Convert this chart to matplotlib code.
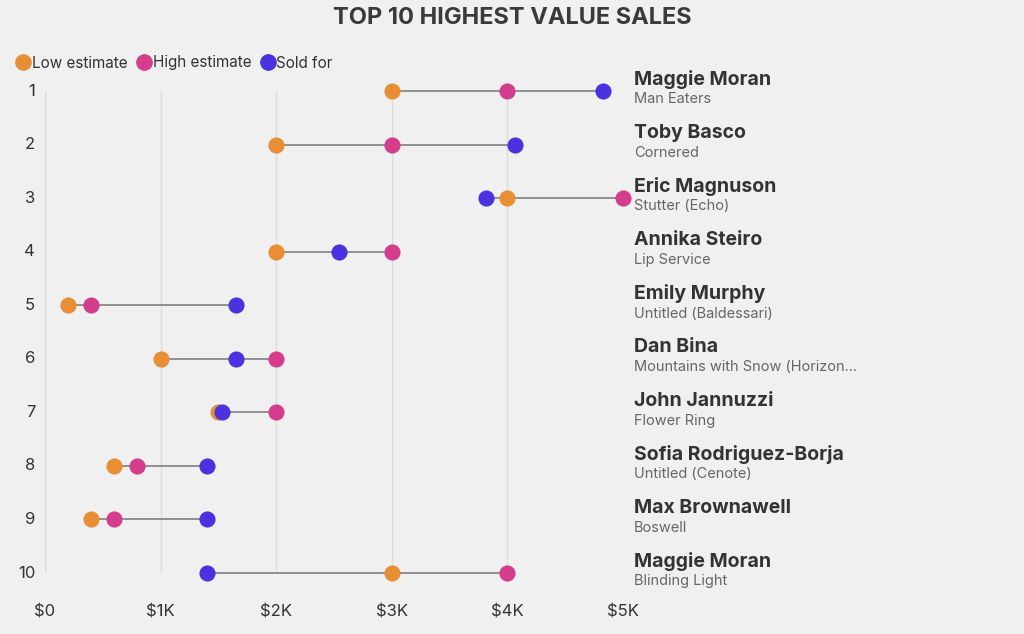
import matplotlib.pyplot as plt
from matplotlib.lines import Line2D
from matplotlib.transforms import blended_transform_factory

plt.rcParams["font.family"] = ["Inter", "DejaVu Sans"]

ranks = [1, 2, 3, 4, 5, 6, 7, 8, 9, 10]
artists = ["Maggie Moran", "Toby Basco", "Eric Magnuson", "Annika Steiro", "Emily Murphy",
           "Dan Bina", "John Jannuzzi", "Sofia Rodriguez-Borja", "Max Brownawell", "Maggie Moran"]
works = ["Man Eaters", "Cornered", "Stutter (Echo)", "Lip Service", "Untitled (Baldessari)",
         "Mountains with Snow (Horizon...", "Flower Ring", "Untitled (Cenote)", "Boswell",
         "Blinding Light"]
low_est = [3000, 2000, 4000, 2000, 200, 1000, 1500, 600, 400, 3000]
high_est = [4000, 3000, 5000, 3000, 400, 2000, 2000, 800, 600, 4000]
sold_for = [4825, 4065, 3815, 2545, 1650, 1650, 1530, 1400, 1400, 1400]
xticks = [0, 1000, 2000, 3000, 4000, 5000]
xtick_labels = ["$0", "$1K", "$2K", "$3K", "$4K", "$5K"]

c_low = "#e88f35"
c_high = "#d43d8b"
c_sold = "#4a32e0"
bg = "#f0f0f0"

fig = plt.figure(figsize=(10.24, 6.34), dpi=100, facecolor=bg)
ax = fig.add_axes([45 / 1024, 1 - 573 / 634, 578 / 1024, 482 / 634], facecolor=bg)

# connecting lines from min to max value per row
for r, lo, hi, s in zip(ranks, low_est, high_est, sold_for):
    vals = [lo, hi, s]
    ax.plot([min(vals), max(vals)], [r, r], color="#888888", lw=1.3, zorder=2,
            solid_capstyle="butt", clip_on=False)

ms = 135
ax.scatter(low_est, ranks, s=ms, color=c_low, zorder=3, clip_on=False, linewidths=0)
ax.scatter(high_est, ranks, s=ms, color=c_high, zorder=3, clip_on=False, linewidths=0)
ax.scatter(sold_for, ranks, s=ms, color=c_sold, zorder=4, clip_on=False, linewidths=0)

ax.set_xlim(0, 5000)
ax.set_ylim(10, 1)
ax.set_xticks(xticks)
ax.set_xticklabels(xtick_labels, fontsize=12, color="#333333")
ax.tick_params(axis="x", length=0, pad=23)
ax.set_yticks([])
ax.grid(axis="x", color="#dcdcdc", lw=1)
ax.set_axisbelow(True)
for sp in ax.spines.values():
    sp.set_visible(False)

# rank numbers on the left
trans_left = blended_transform_factory(ax.transAxes, ax.transData)
for r in ranks:
    ax.annotate(str(r), xy=(0, r), xycoords=trans_left, xytext=(-7, 0),
                textcoords="offset points", ha="right", va="center",
                fontsize=12, color="#333333")

# artist / work labels on the right
for r, name, work in zip(ranks, artists, works):
    ax.annotate(name, xy=(1, r), xycoords=trans_left, xytext=(8, 8.5),
                textcoords="offset points", ha="left", va="center",
                fontsize=14, fontweight="bold", color="#333333", annotation_clip=False)
    ax.annotate(work, xy=(1, r), xycoords=trans_left, xytext=(8, -6),
                textcoords="offset points", ha="left", va="center",
                fontsize=10.5, color="#666666", annotation_clip=False)

fig.text(0.5, 1 - 18 / 634, "TOP 10 HIGHEST VALUE SALES", ha="center", va="center",
         fontsize=17, fontweight="bold", color="#3a3a3a")

handles = [
    Line2D([], [], marker="o", ls="", color=c_low, markersize=11, label="Low estimate"),
    Line2D([], [], marker="o", ls="", color=c_high, markersize=11, label="High estimate"),
    Line2D([], [], marker="o", ls="", color=c_sold, markersize=11, label="Sold for"),
]
fig.legend(handles=handles, loc="center left", bbox_to_anchor=(8 / 1024, 1 - 63 / 634),
           ncol=3, frameon=False, fontsize=11, handletextpad=0.05, columnspacing=0.6,
           handlelength=1.0, borderpad=0, labelcolor="#333333")

fig.savefig("out.png", dpi=100, facecolor=bg)
